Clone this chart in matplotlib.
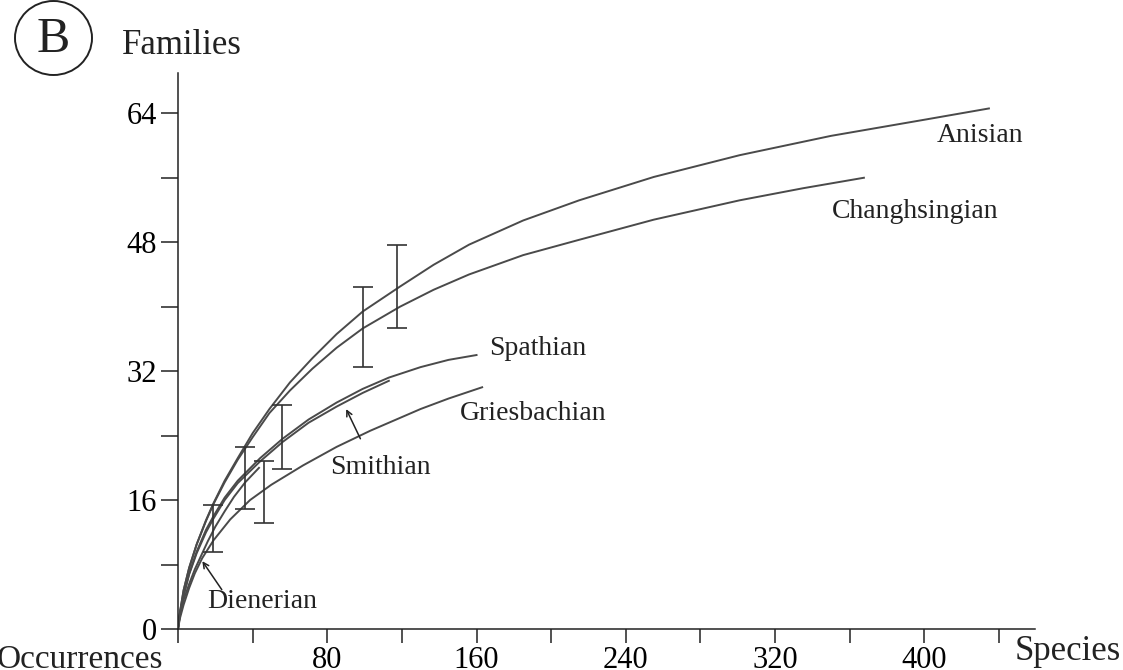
import matplotlib
matplotlib.use('Agg')
import matplotlib.pyplot as plt
from matplotlib.patches import Ellipse

plt.rcParams['font.family'] = ['Liberation Serif', 'DejaVu Serif']

# curvas de rarefacção
anisian_x = [0, 1, 3, 6, 10, 15, 19, 25, 32, 40, 49, 60, 72, 85, 99, 119, 137, 156, 185, 215, 255, 301, 350, 400, 434.6]
anisian_y = [0, 2.0, 4.8, 7.6, 10.5, 13.5, 15.6, 18.4, 21.2, 24.3, 27.3, 30.6, 33.6, 36.6, 39.4, 42.5, 45.2, 47.7,
             50.7, 53.2, 56.1, 58.8, 61.2, 63.2, 64.6]

changh_x = [0, 1, 3, 6, 10, 15, 19, 25, 32, 40, 49, 60, 72, 85, 99, 119, 137, 156, 185, 215, 255, 301, 335, 367.6]
changh_y = [0, 2.0, 4.8, 7.6, 10.5, 13.4, 15.5, 18.2, 21.0, 23.8, 26.8, 29.6, 32.3, 34.9, 37.3, 40.0, 42.1, 44.0,
            46.4, 48.3, 50.8, 53.2, 54.7, 56.0]

spath_x = [0, 1, 3, 6, 10, 15, 19, 25, 32, 44, 56, 70, 85, 99, 113, 130, 145, 160]
spath_y = [0, 1.8, 4.2, 6.9, 9.6, 12.3, 14.0, 16.3, 18.4, 21.2, 23.6, 26.0, 28.1, 29.8, 31.2, 32.5, 33.4, 34.0]

smith_x = [0, 1, 3, 6, 10, 15, 19, 25, 32, 44, 56, 70, 85, 99, 113]
smith_y = [0, 1.8, 4.1, 6.8, 9.4, 12.0, 13.7, 16.0, 18.1, 20.8, 23.2, 25.6, 27.6, 29.3, 30.8]

diener_x = [0, 1, 3, 6, 9, 12.2, 16, 20, 25, 30, 36, 43.4]
diener_y = [0, 1.6, 3.6, 5.6, 7.4, 9.0, 10.9, 12.7, 14.6, 16.4, 18.2, 20.0]

gries_x = [0, 1, 3, 6, 9, 13, 19, 28, 38.6, 50, 67, 85, 103, 130, 145, 163]
gries_y = [0, 1.3, 3.0, 5.1, 6.9, 8.8, 11.0, 13.6, 16.0, 17.9, 20.3, 22.6, 24.6, 27.3, 28.6, 30.0]

# barras de erro
err_x = [18.9, 35.9, 46.3, 56.0, 99.1, 117.4]
err_lo = [9.6, 14.9, 13.1, 19.8, 32.5, 37.3]
err_hi = [15.4, 22.6, 20.8, 27.8, 42.4, 47.7]

x_ticks = [0, 40, 80, 120, 160, 200, 240, 280, 320, 360, 400, 440]
x_labels = ['', '', '80', '', '160', '', '240', '', '320', '', '400', '']
y_ticks = [0, 8, 16, 24, 32, 40, 48, 56, 64]
y_labels = ['0', '', '16', '', '32', '', '48', '', '64']

cor = '#4a4a4a'
preto = '#222222'

fig = plt.figure(figsize=(11.23, 6.70), dpi=100)
ax = fig.add_axes([178 / 1123, 1 - 629 / 670, (1035 - 178) / 1123, (629 - 73) / 670])

for xs, ys in [(anisian_x, anisian_y), (changh_x, changh_y), (spath_x, spath_y),
               (smith_x, smith_y), (diener_x, diener_y), (gries_x, gries_y)]:
    ax.plot(xs, ys, color=cor, lw=1.4, solid_joinstyle='round')

mid = [(a + b) / 2 for a, b in zip(err_lo, err_hi)]
half = [(b - a) / 2 for a, b in zip(err_lo, err_hi)]
ax.errorbar(err_x, mid, yerr=half, fmt='none', ecolor='#333333', elinewidth=1.2,
            capsize=7, capthick=1.2)

ax.set_xlim(0, 459.3)
ax.set_ylim(0, 69)
for s in ['top', 'right']:
    ax.spines[s].set_visible(False)
for s in ['left', 'bottom']:
    ax.spines[s].set_linewidth(1.1)
    ax.spines[s].set_color(preto)

ax.set_xticks(x_ticks)
ax.set_xticklabels(x_labels)
ax.set_yticks(y_ticks)
ax.set_yticklabels(y_labels)
ax.tick_params(axis='x', direction='out', length=10, width=1.1, pad=2, labelsize=22, color=preto)
ax.tick_params(axis='y', direction='out', length=12, width=1.1, pad=3, labelsize=22, color=preto)

# rótulos das curvas
fs = 20
ax.text(430, 61.2, 'Anisian', fontsize=fs, ha='center', va='center', color=preto)
ax.text(395, 51.8, 'Changhsingian', fontsize=fs, ha='center', va='center', color=preto)
ax.text(166.7, 34.8, 'Spathian', fontsize=fs, ha='left', va='center', color=preto)
ax.text(151, 26.7, 'Griesbachian', fontsize=fs, ha='left', va='center', color=preto)
ax.text(81.5, 20.1, 'Smithian', fontsize=fs, ha='left', va='center', color=preto)
ax.text(15.5, 3.4, 'Dienerian', fontsize=fs, ha='left', va='center', color=preto)

ax.annotate('', xy=(89.5, 27.6), xytext=(98.4, 23.3),
            arrowprops=dict(arrowstyle='->', color=preto, lw=1.1))
ax.annotate('', xy=(12.2, 8.7), xytext=(24.3, 4.6),
            arrowprops=dict(arrowstyle='->', color=preto, lw=1.1))

# títulos dos eixos
fig.text(122 / 1123, 1 - 45 / 670, 'Families', fontsize=25, ha='left', va='center', color=preto)
fig.text(1 - 2 / 1123, 1 - 652 / 670, 'Species', fontsize=25, ha='right', va='center', color=preto)
fig.text(163 / 1123, 1 - 660 / 670, 'Occurrences', fontsize=24, ha='right', va='center', color=preto)

# letra do painel
fig.add_artist(Ellipse((53.5 / 1123, 1 - 38 / 670), 77 / 1123, 74 / 670,
                       transform=fig.transFigure, fill=False, lw=1.4, ec=preto))
fig.text(53.5 / 1123, 1 - 40 / 670, 'B', fontsize=36, ha='center', va='center', color=preto)

fig.savefig('out.png', dpi=100)
